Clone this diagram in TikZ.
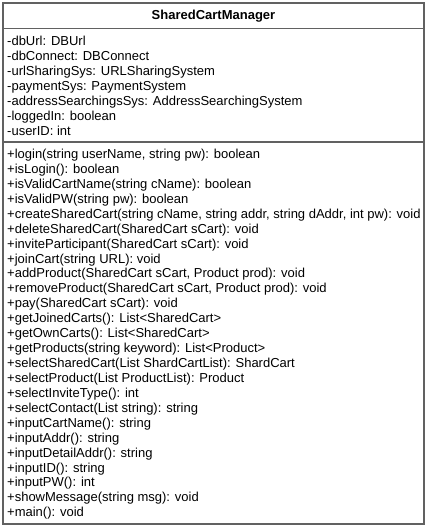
\documentclass[tikz,border=0pt]{standalone}
\usepackage{fontspec}
\setmainfont{Liberation Sans}
\begin{document}
\begin{tikzpicture}[x=1pt,y=-1pt,
  boxline/.style={draw=black!62, line width=1.2pt},
  member/.style={anchor=base west, inner sep=0pt, font=\fontsize{13}{15}\selectfont},
  titletext/.style={inner sep=0pt, font=\fontsize{13}{15}\selectfont\bfseries}]
\useasboundingbox (0,0) rectangle (428,526);
\fill[white] (0,0) rectangle (428,526);
\coordinate (tl) at (3,3);
\coordinate (br) at (424,524);
\coordinate (d1l) at (3,28.5);
\coordinate (d1r) at (424,28.5);
\coordinate (d2l) at (3,142);
\coordinate (d2r) at (424,142);
\draw[boxline] (tl) rectangle (br);
\draw[boxline] (d1l) -- (d1r);
\draw[boxline] (d2l) -- (d2r);
\node[titletext] (title) at (213.5,16) {SharedCartManager};
\foreach \t [count=\i from 0] in {
  {-dbUrl: DBUrl},
  {-dbConnect: DBConnect},
  {-urlSharingSys: URLSharingSystem},
  {-paymentSys: PaymentSystem},
  {-addressSearchingsSys: AddressSearchingSystem},
  {-loggedIn: boolean},
  {-userID: int}}
  \node[member] (a\i) at (7,45.5+15*\i) {\t};
\foreach \t [count=\i from 0] in {
  {+login(string userName, string pw): boolean},
  {+isLogin(): boolean},
  {+isValidCartName(string cName): boolean},
  {+isValidPW(string pw): boolean},
  {+createSharedCart(string cName, string addr, string dAddr, int pw): void},
  {+deleteSharedCart(SharedCart sCart): void},
  {+inviteParticipant(SharedCart sCart): void},
  {+joinCart(string URL): void},
  {+addProduct(SharedCart sCart, Product prod): void},
  {+removeProduct(SharedCart sCart, Product prod): void},
  {+pay(SharedCart sCart): void},
  {+getJoinedCarts(): List<SharedCart>},
  {+getOwnCarts(): List<SharedCart>},
  {+getProducts(string keyword): List<Product>},
  {+selectSharedCart(List ShardCartList): ShardCart},
  {+selectProduct(List ProductList): Product},
  {+selectInviteType(): int},
  {+selectContact(List string): string},
  {+inputCartName(): string},
  {+inputAddr(): string},
  {+inputDetailAddr(): string},
  {+inputID(): string},
  {+inputPW(): int},
  {+showMessage(string msg): void},
  {+main(): void}}
  \node[member] (m\i) at (7,158.5+14.93*\i) {\t};
\end{tikzpicture}
\end{document}
